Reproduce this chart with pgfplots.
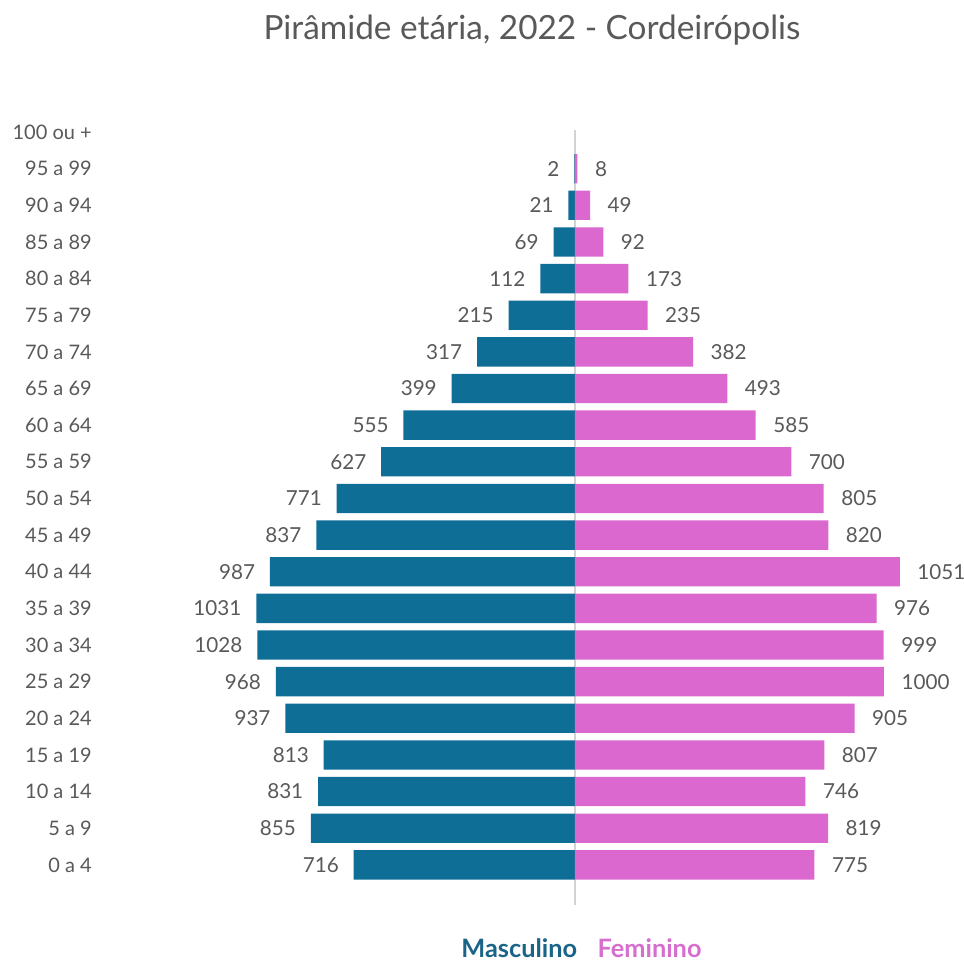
\documentclass[border=0pt]{standalone}
\usepackage{pgfplots}
\pgfplotsset{compat=1.18}
\usepackage{fontspec}
\setmainfont{Lato}
\definecolor{masc}{RGB}{14,110,150}
\definecolor{fem}{RGB}{218,104,206}
\definecolor{txt}{RGB}{89,89,89}
\definecolor{mascL}{RGB}{26,100,135}
\definecolor{femL}{RGB}{214,110,206}
\begin{document}
\begin{tikzpicture}
\path[use as bounding box] (0pt,0pt) rectangle (723pt,721.5pt);
\begin{axis}[
  at={(75pt,41.25pt)}, anchor=south west,
  scale only axis, width=645pt, height=594.4pt,
  xmin=-1537, xmax=1246, ymin=-1.15, ymax=20.48,
  axis line style={draw=none},
  xtick=\empty,
  ytick={0,...,20},
  yticklabels={0 a 4,5 a 9,10 a 14,15 a 19,20 a 24,25 a 29,30 a 34,35 a 39,40 a 44,45 a 49,50 a 54,55 a 59,60 a 64,65 a 69,70 a 74,75 a 79,80 a 84,85 a 89,90 a 94,95 a 99,100 ou +},
  major tick length=0pt,
  tick style={draw=none},
  yticklabel style={text=txt, font=\fontsize{15}{17}\selectfont, inner sep=0pt, xshift=-6pt},
  clip=false,
  point meta=explicit symbolic,
  nodes near coords={\pgfplotspointmeta},
  nodes near coords style={text=txt, font=\fontsize{15.5}{17}\selectfont, inner sep=0pt},
]
\addplot[draw=gray!35, line width=0.8pt, no marks, nodes near coords={}] coordinates {(0,-1.1) (0,20.05)};
\addplot[xbar, bar width=22pt, bar shift=0pt, fill=masc, draw=none,
  every node near coord/.append style={anchor=east, xshift=-11pt}]
 coordinates {
 (-716,0) [716] (-855,1) [855] (-831,2) [831] (-813,3) [813] (-937,4) [937]
 (-968,5) [968] (-1028,6) [1028] (-1031,7) [1031] (-987,8) [987] (-837,9) [837]
 (-771,10) [771] (-627,11) [627] (-555,12) [555] (-399,13) [399] (-317,14) [317]
 (-215,15) [215] (-112,16) [112] (-69,17) [69] (-21,18) [21] (-2,19) [2]
 };
\addplot[xbar, bar width=22pt, bar shift=0pt, fill=fem, draw=none,
  every node near coord/.append style={anchor=west, xshift=13pt}]
 coordinates {
 (775,0) [775] (819,1) [819] (746,2) [746] (807,3) [807] (905,4) [905]
 (1000,5) [1000] (999,6) [999] (976,7) [976] (1051,8) [1051] (820,9) [820]
 (805,10) [805] (700,11) [700] (585,12) [585] (493,13) [493] (382,14) [382]
 (235,15) [235] (173,16) [173] (92,17) [92] (49,18) [49] (8,19) [8]
 };
\end{axis}
\node[text=txt, font=\fontsize{25}{29}\selectfont] at (399pt,699pt) {Pirâmide etária, 2022 - Cordeirópolis};
\node[font=\fontsize{19}{22}\selectfont\bfseries, anchor=east, inner sep=0pt] at (433pt,10.5pt) {\textcolor{mascL}{Masculino}};
\node[font=\fontsize{19}{22}\selectfont\bfseries, anchor=west, inner sep=0pt] at (448pt,10.5pt) {\textcolor{femL}{Feminino}};
\end{tikzpicture}
\end{document}
